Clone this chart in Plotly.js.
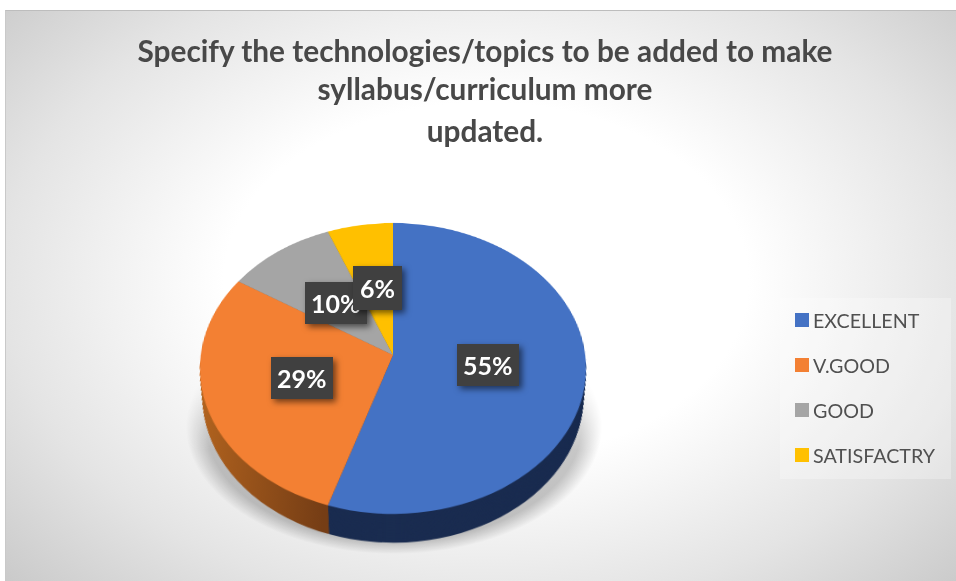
<!DOCTYPE html>
<html>
<head>
<meta charset="utf-8">
<script src="https://cdn.plot.ly/plotly-3.0.1.min.js"></script>
<style>
html,body{margin:0;padding:0;background:#fff;width:956px;height:581px;overflow:hidden}
#bg{position:absolute;left:5px;top:10px;width:951px;height:571px;border-top:1px solid #bdbdbd;border-left:1px solid #c9c9c9;box-sizing:border-box;
  background:radial-gradient(ellipse 690px 470px at 480px 270px,#ffffff 0%,#ffffff 38%,#e4e4e4 70%,#c4c4c4 100%)}
#shadow{position:absolute;left:186px;top:300px;width:416px;height:254px;
  background:radial-gradient(ellipse closest-side,rgba(0,0,0,.22) 0%,rgba(0,0,0,.22) 90%,rgba(0,0,0,0) 100%);
  -webkit-mask-image:linear-gradient(to bottom,transparent 70px,#000 150px);mask-image:linear-gradient(to bottom,transparent 70px,#000 150px)}
#pie3d{position:absolute;left:0;top:0;width:956px;height:581px}
#pie3d svg{position:absolute;left:0;top:0;overflow:visible}
#chart{position:absolute;left:0;top:0;width:956px;height:581px}
.annotation{filter:drop-shadow(3px 3px 3px rgba(0,0,0,.55))}
</style>
</head>
<body>
<div id="bg"></div>
<div id="shadow"></div>
<div id="pie3d"></div>
<div id="chart"></div>
<script>
const titleText = "Specify the technologies/topics to be added to make<br>syllabus/curriculum more<br>updated.";
const categories = ["EXCELLENT", "V.GOOD", "GOOD", "SATISFACTRY"];
const shares = [55, 29, 10, 6];
const topColors = ["#4472c4", "#f38033", "#a5a5a5", "#ffc000"];
const wallColors = ["#1a2c50", "#94501d", "#636363", "#997300"];

const W = 956, H = 581;
const RAD = 192.2, CX = 393, PIE_CY = 355, pieBase = 270;
const TILT = 41.4, PERSP = 1369, WALL = 37, WALL_SHRINK = 6;

const domainAt = (cy, r) => ({
  x: [(CX - r) / W, (CX + r) / W],
  y: [1 - (cy + r) / H, 1 - (cy - r) / H]
});
const pieTrace = (cy, r, colors, legend) => ({
  type: "pie", labels: categories, values: shares, sort: false, direction: "clockwise", rotation: 0,
  domain: domainAt(cy, r), marker: {colors: colors, line: {width: 0}},
  textinfo: "none", hoverinfo: "label+percent", showlegend: legend
});

const traces = [];
for (let d = WALL; d > 0; d -= 1) traces.push(pieTrace(pieBase + d, RAD - WALL_SHRINK * d / WALL, wallColors, false));
traces.push(pieTrace(pieBase, RAD, topColors, true));

const boxCentres = [[487.5, 365], [302, 378], [336, 302.5], [377, 288]];
const boxPads = [6, 6, 6, 7];
const annotations = categories.map((c, i) => ({
  xref: "paper", yref: "paper", x: boxCentres[i][0] / W, y: 1 - boxCentres[i][1] / H,
  xanchor: "center", yanchor: "middle",
  text: "<b>" + shares[i] + "%</b>", showarrow: false,
  font: {family: "Lato, sans-serif", size: 25, color: "#ffffff"},
  bgcolor: "#404040", borderpad: boxPads[i], borderwidth: 0
}));

const layout = {
  width: W, height: H, margin: {l: 0, r: 0, t: 0, b: 0},
  paper_bgcolor: "rgba(0,0,0,0)", plot_bgcolor: "rgba(0,0,0,0)",
  title: {text: titleText, font: {family: "Lato, sans-serif", size: 29.8, color: "#484848", weight: 700},
    x: 485 / W, xanchor: "center", y: 1 - 40 / H, yanchor: "top"},
  legend: {x: 780 / W, xanchor: "left", y: 1 - 298 / H, yanchor: "top",
    bgcolor: "rgba(255,255,255,0.28)", borderwidth: 0,
    font: {family: "Lato, sans-serif", size: 19.7, color: "#505050"}},
  annotations: annotations
};

Plotly.newPlot("chart", traces, layout, {displayModeBar: false, responsive: false}).then(gd => {
  const NS = "http://www.w3.org/2000/svg";
  // lift the pies onto a plane that is tilted in true perspective
  const host = document.getElementById("pie3d");
  const svg = document.createElementNS(NS, "svg");
  svg.setAttribute("width", W); svg.setAttribute("height", H);
  const defs = document.createElementNS(NS, "defs");
  defs.innerHTML = '<linearGradient id="wallOrange" gradientUnits="userSpaceOnUse" x1="200" x2="330" y1="0" y2="0">' +
    '<stop offset="0" stop-color="#b5651f"/><stop offset="1" stop-color="#753d15"/></linearGradient>';
  svg.appendChild(defs);
  const pl = gd.querySelector(".pielayer");
  svg.appendChild(pl);
  host.appendChild(svg);
  host.style.transformOrigin = CX + "px " + pieBase + "px";
  host.style.transform = `translateY(${PIE_CY - pieBase}px) perspective(${PERSP}px) rotateX(${TILT}deg)`;
  const tr = pl.querySelectorAll(".trace");
  tr.forEach((t, idx) => {
    if (idx === tr.length - 1) return;
    const s = t.querySelectorAll(".slice path.surface");
    if (s[1]) s[1].style.fill = "url(#wallOrange)";
  });
  // title line spacing
  const ys = [62, 100, 142];
  const gt = gd.querySelector(".gtitle");
  gt.removeAttribute("dy");
  gt.setAttribute("y", ys[0]);
  gd.querySelectorAll(".gtitle tspan.line").forEach((l, i) => {
    l.removeAttribute("dy");
    l.setAttribute("y", ys[i]);
  });
  // legend rows 45px apart inside the pale box
  const leg = gd.querySelector(".legend");
  leg.querySelectorAll(".traces").forEach((t, i) => {
    t.setAttribute("transform", `translate(2,${22 + 45 * i})`);
    const txt = t.querySelector(".legendtext");
    if (txt) txt.setAttribute("x", 31);
    const sw = t.querySelector(".legendpoints");
    if (sw) sw.querySelectorAll("path").forEach(p => {
      const cur = p.getAttribute("transform") || "";
      p.setAttribute("transform", cur + " scale(1.17)");
    });
  });
  const sb = leg.querySelector(".scrollbox");
  if (sb) sb.removeAttribute("clip-path");
  const bg = leg.querySelector("rect.bg");
  bg.setAttribute("width", 171); bg.setAttribute("height", 181);
});
</script>
</body>
</html>
